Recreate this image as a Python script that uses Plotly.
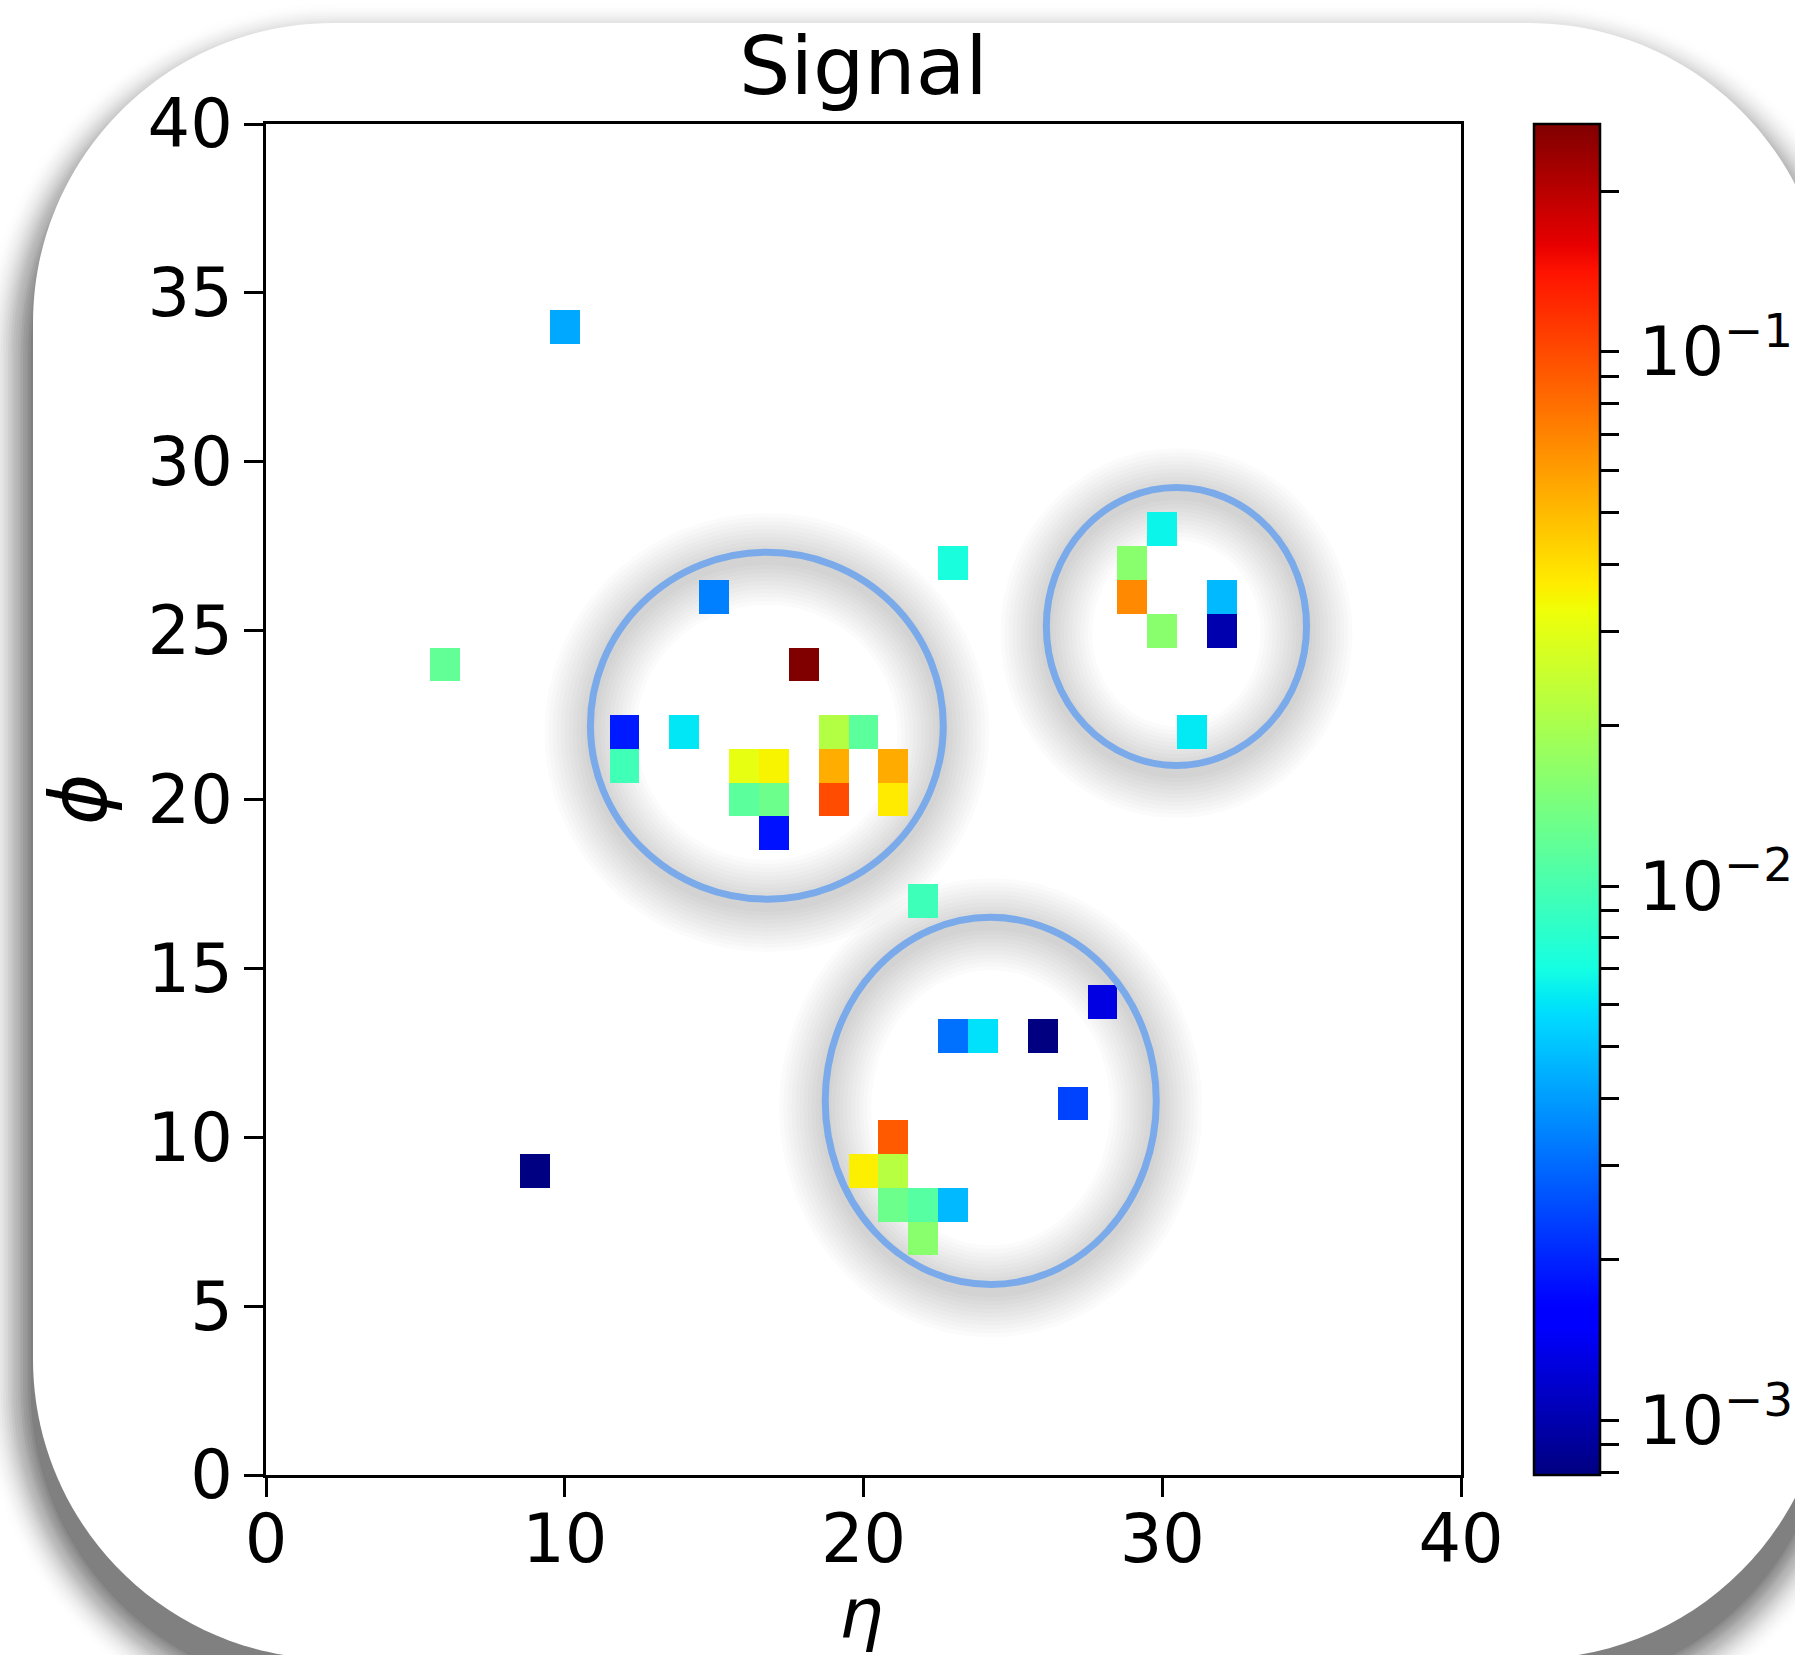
import numpy as np
import plotly.graph_objects as go

# ---------------- data ----------------
eta = [10, 6, 9, 15, 18, 23, 12, 12, 14, 16, 17, 16, 17, 17, 19, 20, 19, 19, 21, 21,
       22, 30, 29, 29, 30, 32, 32, 31, 23, 24, 26, 28, 27, 21, 20, 21, 21, 22, 23, 22]
phi = [34, 24, 9, 26, 24, 27, 22, 21, 22, 21, 21, 20, 20, 19, 22, 22, 21, 20, 21, 20,
       17, 28, 27, 26, 25, 26, 25, 22, 13, 13, 13, 14, 11, 10, 9, 9, 8, 8, 8, 7]
signal = [4.3e-3, 1.2e-2, 8.0e-4, 3.4e-3, 2.67e-1, 7.2e-3, 1.9e-3, 9.5e-3, 6.1e-3, 3.1e-2,
          3.5e-2, 1.15e-2, 1.3e-2, 1.8e-3, 2.15e-2, 1.15e-2, 5.4e-2, 9.9e-2, 5.5e-2, 3.7e-2,
          9.4e-3, 6.6e-3, 1.6e-2, 6.8e-2, 1.6e-2, 4.7e-3, 1.0e-3, 6.2e-3, 3.1e-3, 5.9e-3,
          7.9e-4, 1.3e-3, 2.4e-3, 9.1e-2, 3.6e-2, 2.2e-2, 1.3e-2, 1.1e-2, 4.7e-3, 1.6e-2]

x_tick_values = [0, 10, 20, 30, 40]
y_tick_values = [0, 5, 10, 15, 20, 25, 30, 35, 40]
cbar_tick_values = [8e-4, 9e-4, 1e-3, 2e-3, 3e-3, 4e-3, 5e-3, 6e-3, 7e-3, 8e-3, 9e-3,
                    1e-2, 2e-2, 3e-2, 4e-2, 5e-2, 6e-2, 7e-2, 8e-2, 9e-2, 1e-1, 2e-1]
cbar_tick_labels = ["", "", "\u200a10<sup>−3</sup>", "", "", "", "", "", "", "", "",
                    "\u200a10<sup>−2</sup>", "", "", "", "", "", "", "", "",
                    "\u200a10<sup>−1</sup>", ""]

# highlighted regions (eta_min, eta_max, phi_min, phi_max)
circle_regions = [(10.86, 22.67, 17.05, 27.32),
                  (26.12, 34.83, 21.01, 29.24),
                  (18.72, 29.80, 5.64, 16.51)]

title_text = "Signal"
x_label = "η"
y_label = "ϕ"

# ---------------- styling ----------------
W, H = 1795, 1655
ML, MR, MT, MB = 266, 334, 124, 180
PW, PH = W - ML - MR, H - MT - MB
FONT = "DejaVu Sans"

def px(x, y):
    return (x - ML) / PW, (H - MB - y) / PH

# matplotlib "jet" colormap breakpoints
jet = [[0.0, "rgb(0,0,128)"], [0.11, "rgb(0,0,255)"], [0.125, "rgb(0,0,255)"],
       [0.34, "rgb(0,219,255)"], [0.35, "rgb(0,230,247)"], [0.375, "rgb(21,255,226)"],
       [0.64, "rgb(239,255,8)"], [0.65, "rgb(247,245,0)"], [0.66, "rgb(255,236,0)"],
       [0.89, "rgb(255,19,0)"], [0.91, "rgb(232,0,0)"], [1.0, "rgb(128,0,0)"]]

n = 40
z = np.full((n, n), np.nan)
for e, p, v in zip(eta, phi, signal):
    z[p, e] = np.log10(v)

fig = go.Figure()
fig.add_trace(go.Heatmap(
    x=np.arange(n), y=np.arange(n), z=z, colorscale=jet,
    hoverinfo="skip",
    colorbar=dict(
        x=(1534 - ML) / PW, xanchor="left", xpad=0, ypad=0,
        y=0.5, yanchor="middle", len=1, lenmode="fraction",
        thickness=66, outlinewidth=2.5, outlinecolor="black",
        tickvals=np.log10(cbar_tick_values), ticktext=cbar_tick_labels,
        ticks="outside", ticklen=18, tickwidth=2.5, tickcolor="black",
        tickfont=dict(family=FONT, size=67, color="black"),
    ),
))

def rrect_path(x0, y0, x1, y1, r):
    k = 0.5523 * r
    pts = [
        ("M", [(x0 + r, y0)]),
        ("L", [(x1 - r, y0)]),
        ("C", [(x1 - r + k, y0), (x1, y0 + r - k), (x1, y0 + r)]),
        ("L", [(x1, y1 - r)]),
        ("C", [(x1, y1 - r + k), (x1 - r + k, y1), (x1 - r, y1)]),
        ("L", [(x0 + r, y1)]),
        ("C", [(x0 + r - k, y1), (x0, y1 - r + k), (x0, y1 - r)]),
        ("L", [(x0, y0 + r)]),
        ("C", [(x0, y0 + r - k), (x0 + r - k, y0), (x0 + r, y0)]),
    ]
    s = ""
    for cmd, ps in pts:
        s += cmd + " " + " ".join("%.5f,%.5f" % px(a, b) for a, b in ps) + " "
    return s + "Z"

shapes = []
# card shadow
CX0, CY0, CX1, CY1, CR = 33, 23, 1829, 1659, 300
for i in range(1, 21):
    s = 2.5 * i
    dy = 30
    a = 0.06 * (1 - i / 21)
    shapes.append(dict(type="path", xref="paper", yref="paper", layer="below",
                       path=rrect_path(CX0 - s, CY0 - s + dy, CX1 + s, CY1 + s + dy, CR + s),
                       fillcolor="rgba(0,0,0,%.4f)" % a, line=dict(width=0)))
# white card
shapes.append(dict(type="path", xref="paper", yref="paper", layer="below",
                   path=rrect_path(CX0, CY0, CX1, CY1, CR),
                   fillcolor="white", line=dict(width=0)))

# soft shadows of the rings
for (x0, x1, y0, y1) in circle_regions:
    for w in range(12, 100, 8):
        shapes.append(dict(type="circle", xref="x", yref="y", layer="below",
                           x0=x0, x1=x1, y0=y0 - 0.2, y1=y1 - 0.2,
                           line=dict(color="rgba(0,0,0,0.014)", width=w)))
# blue rings
for (x0, x1, y0, y1) in circle_regions:
    shapes.append(dict(type="circle", xref="x", yref="y", layer="above",
                       x0=x0, x1=x1, y0=y0, y1=y1,
                       line=dict(color="rgb(122,170,234)", width=7)))

axis_common = dict(
    range=[0, 40], showgrid=False, zeroline=False,
    showline=True, linecolor="black", linewidth=2.5, mirror=True,
    ticks="outside", ticklen=19, tickwidth=2.5, tickcolor="black",
    tickfont=dict(family=FONT, size=67, color="black"),
)

tx, ty = px(864, 66)
ex, ey = px(861, 1614)
fx, fy = px(79, 800)

fig.update_layout(
    width=W, height=H,
    margin=dict(l=ML, r=MR, t=MT, b=MB, pad=0, autoexpand=False),
    paper_bgcolor="white", plot_bgcolor="rgba(0,0,0,0)",
    xaxis=dict(axis_common, tickvals=x_tick_values, ticklabelstandoff=-15),
    yaxis=dict(axis_common, tickvals=y_tick_values, ticklabelstandoff=-2),
    shapes=shapes,
    annotations=[
        dict(text=title_text, x=tx, y=ty, xref="paper", yref="paper",
             xanchor="center", yanchor="middle", showarrow=False,
             font=dict(family=FONT, size=81, color="black")),
        dict(text="<i>%s</i>" % x_label, x=ex, y=ey, xref="paper", yref="paper",
             xanchor="center", yanchor="middle", showarrow=False,
             font=dict(family=FONT, size=70, color="black")),
        dict(text="<i>%s</i>" % y_label, x=fx, y=fy, xref="paper", yref="paper",
             xanchor="center", yanchor="middle", showarrow=False, textangle=-90,
             font=dict(family=FONT, size=78, color="black")),
    ],
    showlegend=False,
)

fig.write_html("out.html")
